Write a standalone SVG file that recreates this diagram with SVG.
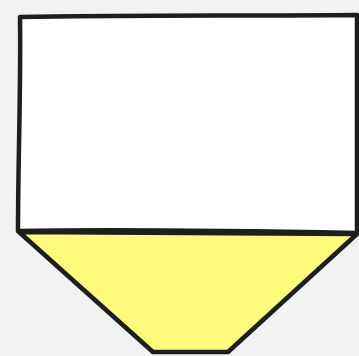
<svg xmlns="http://www.w3.org/2000/svg" width="359" height="356" viewBox="0 0 359 356">
<style>
.ink{stroke:#1e1e1e;stroke-width:4.5;stroke-linejoin:round;stroke-linecap:round}
</style>
<rect width="359" height="356" fill="#f2f2f2"/>
<g id="hopper">
<path class="ink" fill="#fdfa7c" d="M19,232 L357,234 L228,352 L153,352 Z"/>
</g>
<g id="box">
<path class="ink" fill="#ffffff" d="M20,17 C120,15 240,16 357,15 L357,233 C250,231 120,229 18,231 C18,160 21,90 20,17 Z"/>
</g>
<g id="connectors"/>
</svg>
